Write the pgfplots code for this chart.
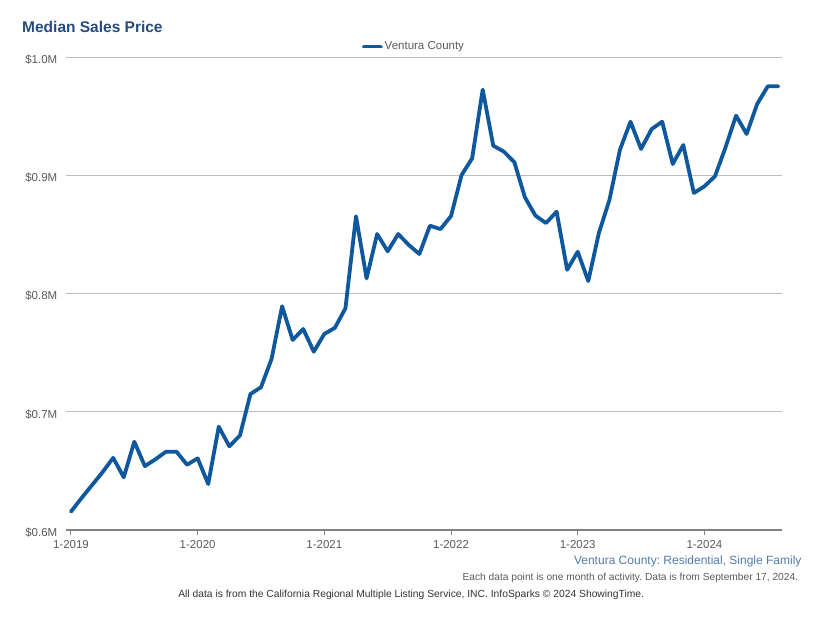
\documentclass[border=0pt]{standalone}
\usepackage{pgfplots}
\pgfplotsset{compat=1.18}
\usepackage{fontspec}
\setmainfont{Liberation Sans}
\frenchspacing
\definecolor{lineblue}{RGB}{16,88,158}
\definecolor{titleblue}{RGB}{40,75,125}
\definecolor{subblue}{RGB}{80,122,172}
\definecolor{txtgray}{RGB}{90,90,90}
\definecolor{gridgray}{RGB}{190,190,190}
\definecolor{axisgray}{RGB}{130,130,130}
\begin{document}
\begin{tikzpicture}
\path[use as bounding box] (0,0) rectangle (823bp,618bp);
\begin{axis}[
  at={(66bp,88bp)}, anchor=south west,
  scale only axis, width=716bp, height=473bp,
  xmin=-0.47, xmax=67.35, ymin=0.6, ymax=1.0,
  axis lines*=left,
  x axis line style={draw=axisgray, line width=1.8bp},
  y axis line style={draw=none},
  xtick={0,12,24,36,48,60},
  xticklabels={1-2019,1-2020,1-2021,1-2022,1-2023,1-2024},
  ytick={0.6,0.7,0.8,0.9,1.0},
  yticklabels={\$0.6M,\$0.7M,\$0.8M,\$0.9M,\$1.0M},
  tick align=outside,
  major tick length=5bp,
  xtick style={draw=axisgray, line width=1bp},
  ytick style={draw=none},
  ymajorgrids,
  grid style={draw=gridgray, line width=0.9bp},
  tick label style={font=\fontsize{11.5bp}{13bp}\selectfont, text=txtgray},
  yticklabel style={inner sep=0pt, xshift=-3.5bp, yshift=-2.5bp},
  xticklabel style={inner sep=0pt, yshift=-5bp},
  legend style={at={(rel axis cs:0.486,1.022)}, anchor=center, draw=none, fill=none,
    font=\fontsize{11.5bp}{13bp}\selectfont, text=txtgray, inner sep=0pt},
  legend image code/.code={\draw[line width=3.8bp, lineblue] (0bp,0bp) -- (17bp,0bp);},
  clip=false,
]
\addplot[lineblue, line width=3.8bp, line join=round, line cap=round] coordinates {
(0,0.6155) (1,0.627) (2,0.638) (3,0.649) (4,0.661) (5,0.6446) (6,0.6747) (7,0.654)
(8,0.6598) (9,0.6662) (10,0.6662) (11,0.6552) (12,0.6606) (13,0.6389) (14,0.6874)
(15,0.6708) (16,0.6798) (17,0.715) (18,0.7207) (19,0.7446) (20,0.7892) (21,0.7607)
(22,0.770) (23,0.7508) (24,0.7658) (25,0.771) (26,0.7875) (27,0.8653) (28,0.8128)
(29,0.8503) (30,0.8357) (31,0.8503) (32,0.841) (33,0.8334) (34,0.8573) (35,0.8545)
(36,0.8655) (37,0.9002) (38,0.9143) (39,0.9724) (40,0.925) (41,0.920) (42,0.911)
(43,0.8813) (44,0.8658) (45,0.8596) (46,0.8692) (47,0.8201) (48,0.8353) (49,0.8105)
(50,0.851) (51,0.879) (52,0.9216) (53,0.9453) (54,0.9222) (55,0.939) (56,0.9453)
(57,0.9095) (58,0.9256) (59,0.885) (60,0.8906) (61,0.8991) (62,0.9236) (63,0.9504)
(64,0.9349) (65,0.9603) (66,0.9752) (67,0.9752)
};
\addlegendentry{Ventura County}
\end{axis}
\node[anchor=base west, inner sep=0pt, text=titleblue, font=\fontsize{15.5bp}{18bp}\selectfont\bfseries] at (22bp,585.3bp) {Median Sales Price};
\node[anchor=base east, inner sep=0pt, text=subblue, font=\fontsize{12bp}{14bp}\selectfont] at (801.7bp,53.7bp) {Ventura County: Residential, Single Family};
\node[anchor=base east, inner sep=0pt, text=txtgray, font=\fontsize{10.2bp}{12bp}\selectfont] at (798.3bp,38bp) {Each data point is one month of activity. Data is from September 17, 2024.};
\node[anchor=base east, inner sep=0pt, text=black!80, font=\fontsize{10.3bp}{12bp}\selectfont] at (644.3bp,20.7bp) {All data is from the California Regional Multiple Listing Service, INC. InfoSparks \textcopyright{} 2024 ShowingTime.};
\end{tikzpicture}
\end{document}
